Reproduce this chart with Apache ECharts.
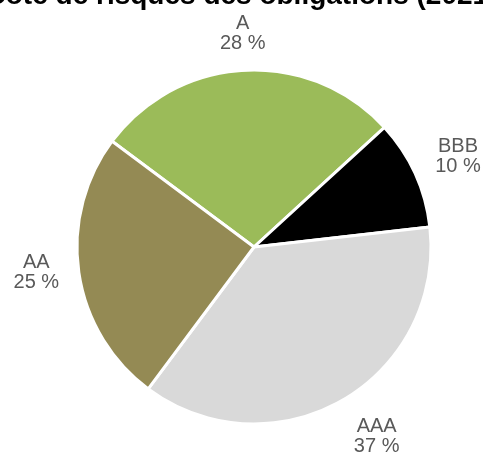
<!DOCTYPE html>
<html>
<head>
<meta charset="utf-8">
<script src="https://cdn.jsdelivr.net/npm/echarts@6/dist/echarts.min.js"></script>
<style>
html,body{margin:0;padding:0;background:#fff;}
#chart{width:483px;height:458px;}
</style>
</head>
<body>
<div id="chart"></div>
<script>
var titleText = "Cote de risques des obligations (2021)";
var categories = ["A", "BBB", "AAA", "AA"];
var values = [28, 10, 37, 25];
var colors = ["#9BBB59", "#000000", "#D9D9D9", "#948A54"];

var chart = echarts.init(document.getElementById('chart'), null, {renderer: 'canvas'});
var labelOffsets = [[0, 8], [2, 2], [12, -3], [2, -7]];
var mainData = categories.map(function (c, i) {
  return {name: c, value: values[i], itemStyle: {color: colors[i]}};
});
var labelData = categories.map(function (c, i) {
  return {name: c, value: values[i], label: {offset: labelOffsets[i]}};
});
chart.setOption({
  animation: false,
  title: {
    text: titleText,
    left: 'center',
    top: -23,
    textStyle: {fontFamily: 'Liberation Sans', fontSize: 28, fontWeight: 'bold', color: '#000'}
  },
  series: [
    {
      type: 'pie',
      center: [254, 247],
      radius: [0, 177],
      startAngle: 143.3,
      clockwise: true,
      data: mainData,
      itemStyle: {borderColor: '#fff', borderWidth: 3},
      label: {show: false},
      labelLine: {show: false},
      silent: true
    },
    {
      type: 'pie',
      center: [254, 247],
      radius: [198, 240],
      startAngle: 143.3,
      clockwise: true,
      data: labelData,
      itemStyle: {color: 'rgba(0,0,0,0)'},
      label: {
        show: true,
        position: 'inside',
        formatter: function (p) { return p.name + '\n' + p.value + ' %'; },
        fontFamily: 'Liberation Sans',
        fontSize: 20,
        lineHeight: 20,
        color: '#595959',
        align: 'center'
      },
      labelLine: {show: false},
      silent: true
    }
  ]
});
</script>
</body>
</html>
